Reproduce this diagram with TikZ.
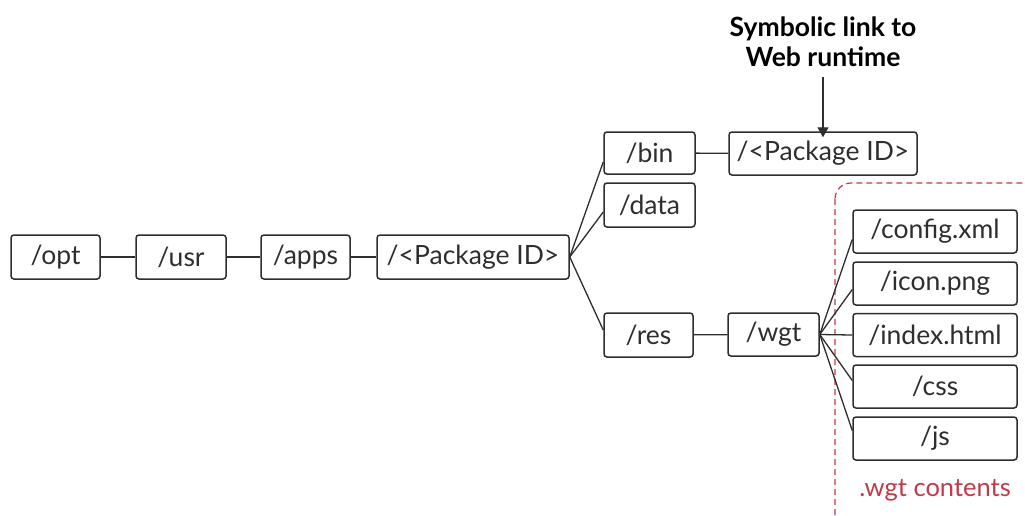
\documentclass[tikz,border=0pt]{standalone}
\usepackage{fontspec}
\setmainfont{Lato}
\usetikzlibrary{arrows.meta}
\definecolor{ink}{HTML}{2E2E2E}
\definecolor{wgtred}{HTML}{C23A4A}
\begin{document}
\begin{tikzpicture}[x=1pt,y=-1pt,
  dirbox/.style={draw=ink, line width=1.5pt, rounded corners=3pt, inner sep=0pt,
    minimum height=44pt, text=ink, font=\fontsize{26.5}{30}\selectfont},
  link/.style={draw=ink, line width=1.3pt}]
\clip (0,0) rectangle (1025,515);
\fill[white] (0,0) rectangle (1025,515);

% widget contents region
\draw[wgtred, line width=1.2pt, dash pattern=on 6pt off 4pt, rounded corners=16pt]
  (835,183) rectangle (1060,560);
\node[text=wgtred, font=\fontsize{25.5}{30}\selectfont] (wgtlabel) at (935,490) {.wgt contents};

% main path
\node[dirbox, minimum width=89pt] (opt) at (55.5,257) {/opt};
\node[dirbox, minimum width=90pt] (usr) at (181,257) {/usr};
\node[dirbox, minimum width=89pt] (apps) at (305.5,257) {/apps};
\node[dirbox, minimum width=192pt] (pkg) at (473,257) {/<Package ID>};

% package subfolders
\node[dirbox, minimum width=91pt, minimum height=42pt] (bin) at (649.5,153) {/bin};
\node[dirbox, minimum width=91pt] (data) at (649.5,205) {/data};
\node[dirbox, minimum width=89pt] (res) at (648.5,335) {/res};
\node[dirbox, minimum width=91pt, minimum height=43pt] (wgt) at (773.5,334.5) {/wgt};
\node[dirbox, minimum width=188pt, minimum height=43pt] (rt) at (823,153.5) {/<Package ID>};

% widget files
\node[dirbox, minimum width=164pt, minimum height=43pt] (config) at (935,231.5) {/config.xml};
\node[dirbox, minimum width=164pt, minimum height=43pt] (icon) at (935,283.5) {/icon.png};
\node[dirbox, minimum width=164pt, minimum height=43pt] (index) at (935,335) {/index.html};
\node[dirbox, minimum width=164pt, minimum height=43pt] (css) at (935,386.5) {/css};
\node[dirbox, minimum width=164pt, minimum height=43pt] (js) at (935,438.5) {/js};

% annotation
\node[text=black, font=\bfseries\fontsize{26.5}{30}\selectfont, align=center] (note) at (823,42) {Symbolic link to\\Web runtime};
\coordinate (tail) at (823,77);
\draw[ink, line width=1.3pt, -{Triangle[width=11pt,length=10pt]}] (tail) -- ([yshift=-6pt]rt.north);

% connectors
\draw[link] (opt) -- (usr);
\draw[link] (usr) -- (apps);
\draw[link] (apps) -- (pkg);
\draw[link] (pkg.east) -- ([yshift=-9pt]bin.west);
\draw[link] (pkg.east) -- ([yshift=-7pt]data.west);
\draw[link] (pkg.east) -- ([yshift=5pt]res.west);
\draw[link] (res) -- (wgt);
\draw[link] (bin) -- (rt);
\draw[link] (wgt.east) -- ([yshift=-8pt]config.west);
\draw[link] (wgt.east) -- ([yshift=-6pt]icon.west);
\draw[link] (wgt.east) -- (index.west);
\draw[link] (wgt.east) -- ([yshift=6pt]css.west);
\draw[link] (wgt.east) -- ([yshift=8pt]js.west);
\end{tikzpicture}
\end{document}
